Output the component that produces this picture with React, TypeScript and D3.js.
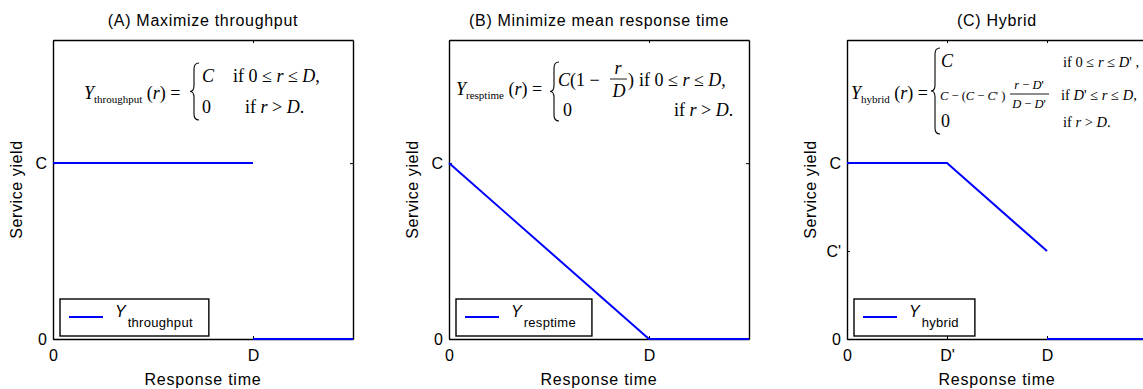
import React, { useEffect, useRef } from 'react';
import * as d3 from 'd3';

// response time axis: D = 1, D' = 0.5 ; service yield axis: C = 1, C' = 0.5
const panelTitles = ['(A) Maximize throughput', '(B) Minimize mean response time', '(C) Hybrid'];
const legendSubscripts = ['throughput', 'resptime', 'hybrid'];

const xMax = 1.5;
const yMax = 1.7;

const xTicksAB = [0, 1];
const xTickLabelsAB = ['0', 'D'];
const xTicksC = [0, 0.5, 1];
const xTickLabelsC = ['0', "D'", 'D'];

const yTicksAB = [0, 1];
const yTickLabelsAB = ['0', 'C'];
const yTicksC = [0, 0.5, 1];
const yTickLabelsC = ['0', "C'", 'C'];

// every series is a list of separate pieces of [r, yield]
const throughputSegments: [number, number][][] = [
  [[0, 1], [1, 1]],
  [[1, 0], [1.5, 0]],
];
const resptimeSegments: [number, number][][] = [
  [[0, 1], [1, 0], [1.5, 0]],
];
const hybridSegments: [number, number][][] = [
  [[0, 1], [0.5, 1], [1, 0.5]],
  [[1, 0], [1.5, 0]],
];

const SANS = '"Liberation Sans", Arial, Helvetica, sans-serif';
const SERIF = '"Liberation Serif", "Times New Roman", serif';

const W = 1143;
const H = 389;
const panelLefts = [53, 449, 847];
const plotTop = 40;
const plotW = 300;
const plotH = 299;

const panels = [
  { title: panelTitles[0], sub: legendSubscripts[0], xTicks: xTicksAB, xLabels: xTickLabelsAB, yTicks: yTicksAB, yLabels: yTickLabelsAB, segments: throughputSegments },
  { title: panelTitles[1], sub: legendSubscripts[1], xTicks: xTicksAB, xLabels: xTickLabelsAB, yTicks: yTicksAB, yLabels: yTickLabelsAB, segments: resptimeSegments },
  { title: panelTitles[2], sub: legendSubscripts[2], xTicks: xTicksC, xLabels: xTickLabelsC, yTicks: yTicksC, yLabels: yTickLabelsC, segments: hybridSegments },
];

type Part = [string, boolean?];

function mathText(g: any, x: number, y: number, size: number, parts: Part[], anchor = 'start') {
  const t = g.append('text')
    .attr('x', x).attr('y', y)
    .attr('font-family', SERIF).attr('font-size', size)
    .attr('text-anchor', anchor)
    .style('white-space', 'pre');
  parts.forEach(([s, it]) => t.append('tspan').attr('font-style', it ? 'italic' : 'normal').text(s));
  return t;
}

// "Y_sub(r) ="
function yOf(g: any, x: number, y: number, sub: string) {
  const t = g.append('text')
    .attr('x', x).attr('y', y)
    .attr('font-family', SERIF).attr('font-size', 18)
    .style('white-space', 'pre');
  t.append('tspan').attr('font-style', 'italic').text('Y');
  t.append('tspan').attr('font-size', 11).attr('dy', 4).text(sub);
  t.append('tspan').attr('dy', -4).text(' (');
  t.append('tspan').attr('font-style', 'italic').text('r');
  t.append('tspan').text(') =');
}

function brace(g: any, x: number, y0: number, y1: number) {
  const w = 5;
  const r = 6;
  const m = (y0 + y1) / 2;
  const p = `M${x + w},${y0} Q${x},${y0} ${x},${y0 + r} L${x},${m - r} Q${x},${m} ${x - w + 1},${m} Q${x},${m} ${x},${m + r} L${x},${y1 - r} Q${x},${y1} ${x + w},${y1}`;
  g.append('path').attr('d', p).attr('fill', 'none').attr('stroke', '#000').attr('stroke-width', 1.1);
}

function fracLine(g: any, x0: number, x1: number, y: number) {
  g.append('line').attr('x1', x0).attr('x2', x1).attr('y1', y).attr('y2', y)
    .attr('stroke', '#000').attr('stroke-width', 0.9);
}

function formulaA(g: any, L: number) {
  yOf(g, L + 31, 99, 'throughput');
  brace(g, L + 141, 63, 120);
  mathText(g, L + 149, 82, 18, [['C', true]]);
  mathText(g, L + 180, 82, 18, [['if 0 ≤ '], ['r', true], [' ≤ '], ['D', true], [',']]);
  mathText(g, L + 149, 113, 18, [['0']]);
  mathText(g, L + 192, 113, 18, [['if '], ['r', true], [' > '], ['D', true], ['.']]);
}

function formulaB(g: any, L: number) {
  yOf(g, L + 7, 95, 'resptime');
  brace(g, L + 105, 62, 121);
  mathText(g, L + 109, 86, 18, [['C', true], ['(1 − ']]);
  mathText(g, L + 169, 74, 18, [['r', true]], 'middle');
  fracLine(g, L + 161, L + 178, 79);
  mathText(g, L + 170, 97, 18, [['D', true]], 'middle');
  mathText(g, L + 179, 86, 18, [[')']]);
  mathText(g, L + 190, 86, 18, [['if 0 ≤ '], ['r', true], [' ≤ '], ['D', true], [',']]);
  mathText(g, L + 114, 116, 18, [['0']]);
  mathText(g, L + 225, 116, 18, [['if '], ['r', true], [' > '], ['D', true], ['.']]);
}

function formulaC(g: any, L: number) {
  yOf(g, L + 4, 99, 'hybrid');
  brace(g, L + 88, 48, 134);
  mathText(g, L + 94, 67, 18, [['C', true]]);
  mathText(g, L + 216, 67, 14.5, [['if 0 ≤ '], ['r', true], [' ≤ '], ['D', true], ["' ,"]]);
  mathText(g, L + 93, 100, 12.5, [['C', true], [' − ('], ['C', true], [' − '], ['C', true], ["' )"]]);
  mathText(g, L + 182, 89, 12.5, [['r', true], [' − '], ['D', true], ["'"]], 'middle');
  fracLine(g, L + 163, L + 202, 94);
  mathText(g, L + 182, 108, 12.5, [['D', true], [' − '], ['D', true], ["'"]], 'middle');
  mathText(g, L + 214, 100, 14.5, [['if '], ['D', true], ["' ≤ "], ['r', true], [' ≤ '], ['D', true], [',']]);
  mathText(g, L + 94, 127, 18, [['0']]);
  mathText(g, L + 216, 127, 14.5, [['if '], ['r', true], [' > '], ['D', true], ['.']]);
}

const formulas = [formulaA, formulaB, formulaC];

const App = () => {
  const ref = useRef<SVGSVGElement>(null);

  useEffect(() => {
    const svg = d3.select(ref.current);
    svg.selectAll('*').remove();

    const styleAxis = (sel: any) => {
      sel.attr('font-family', SANS).attr('font-size', 16);
      sel.select('.domain').attr('stroke', '#000').attr('stroke-width', 1.4);
      sel.selectAll('.tick line').attr('stroke', '#000');
      sel.selectAll('.tick text').attr('fill', '#000');
    };

    panels.forEach((p, i) => {
      const L = panelLefts[i];
      const x = d3.scaleLinear().domain([0, xMax]).range([0, plotW]);
      const y = d3.scaleLinear().domain([0, yMax]).range([plotH, 0]);

      // title and labels
      svg.append('text')
        .attr('x', L + plotW / 2).attr('y', 26)
        .attr('text-anchor', 'middle')
        .attr('font-family', SANS).attr('font-size', 16).attr('letter-spacing', 0.7)
        .text(p.title);
      svg.append('text')
        .attr('x', L + plotW / 2).attr('y', 385)
        .attr('text-anchor', 'middle')
        .attr('font-family', SANS).attr('font-size', 16).attr('letter-spacing', 0.8)
        .text('Response time');
      svg.append('text')
        .attr('transform', `translate(${L - 31},${plotTop + plotH / 2}) rotate(-90)`)
        .attr('text-anchor', 'middle')
        .attr('font-family', SANS).attr('font-size', 16).attr('letter-spacing', 0.6)
        .text('Service yield');

      const g = svg.append('g').attr('transform', `translate(${L},${plotTop})`);

      g.append('g').attr('transform', `translate(0,${plotH})`)
        .call(d3.axisBottom(x).tickValues(p.xTicks).tickFormat((_d: any, k: number) => p.xLabels[k]).tickSizeInner(-3).tickSizeOuter(0).tickPadding(11))
        .call(styleAxis);
      g.append('g')
        .call(d3.axisTop(x).tickValues(p.xTicks).tickFormat(() => '').tickSizeInner(-3).tickSizeOuter(0))
        .call(styleAxis);
      g.append('g')
        .call(d3.axisLeft(y).tickValues(p.yTicks).tickFormat((_d: any, k: number) => p.yLabels[k]).tickSizeInner(-3).tickSizeOuter(0).tickPadding(6))
        .call(styleAxis);
      g.append('g').attr('transform', `translate(${plotW},0)`)
        .call(d3.axisRight(y).tickValues(p.yTicks).tickFormat(() => '').tickSizeInner(-3).tickSizeOuter(0))
        .call(styleAxis);

      // formula box content
      formulas[i](svg, L);

      // series
      const line = d3.line<[number, number]>().x((d) => x(d[0])).y((d) => y(d[1]));
      g.selectAll('path.series')
        .data(p.segments)
        .join('path')
        .attr('class', 'series')
        .attr('d', (d) => line(d))
        .attr('fill', 'none')
        .attr('stroke', '#0000ff')
        .attr('stroke-width', 2);

      // legend
      const lx = L + 7;
      const ly = 299;
      const lg = svg.append('g');
      const box = lg.append('rect')
        .attr('x', lx).attr('y', ly).attr('height', 37)
        .attr('fill', '#fff').attr('stroke', '#000').attr('stroke-width', 1.4);
      lg.append('line')
        .attr('x1', lx + 9).attr('x2', lx + 43).attr('y1', ly + 18).attr('y2', ly + 18)
        .attr('stroke', '#0000ff').attr('stroke-width', 2);
      const lt = lg.append('text')
        .attr('x', lx + 55).attr('y', ly + 18)
        .attr('font-family', SANS).attr('font-size', 16);
      lt.append('tspan').attr('font-style', 'italic').text('Y');
      lt.append('tspan').attr('font-size', 13).attr('dy', 10).attr('dx', 2).attr('letter-spacing', 0.3).text(p.sub);
      const len = (lt.node() as SVGTextElement).getComputedTextLength();
      box.attr('width', 55 + len + 18);
    });
  }, []);

  return (
    <svg
      ref={ref}
      width={W}
      height={H}
      style={{ position: 'absolute', left: 0, top: 0, background: '#fff' }}
    />
  );
};

export default App;
